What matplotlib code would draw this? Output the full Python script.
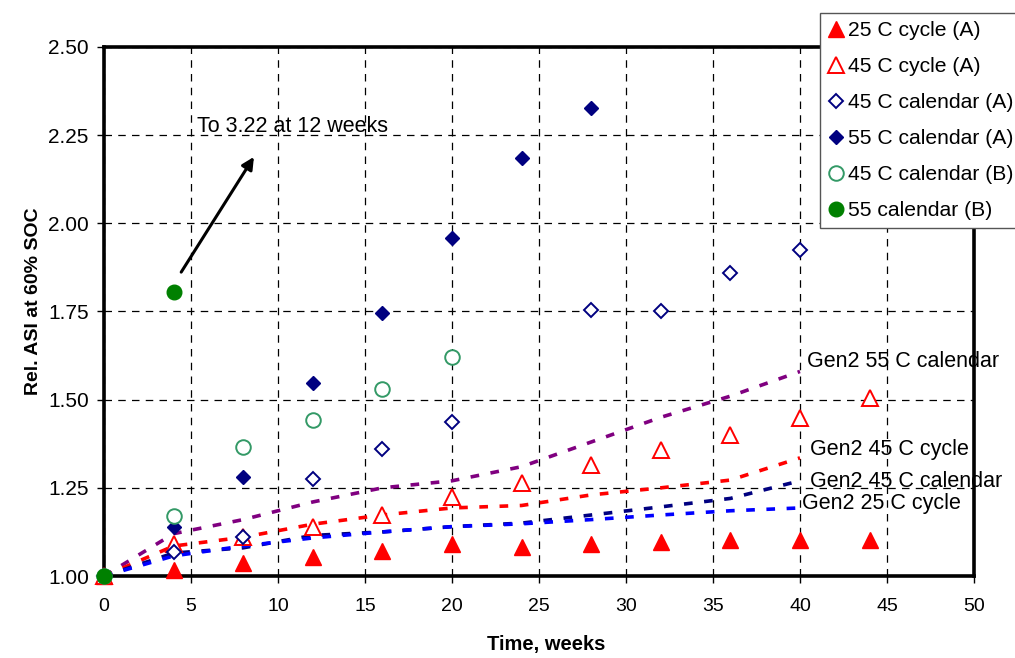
import matplotlib
matplotlib.use("Agg")
import matplotlib.pyplot as plt

plt.rcParams['font.family'] = ['Liberation Sans', 'DejaVu Sans']

# Measured series
x_25cyc = [0, 4, 8, 12, 16, 20, 24, 28, 32, 36, 40, 44]
y_25cyc = [1.00, 1.017, 1.037, 1.054, 1.071, 1.091, 1.082, 1.091, 1.097, 1.102, 1.102, 1.102]

x_45cyc = [0, 4, 8, 12, 16, 20, 24, 28, 32, 36, 40, 44]
y_45cyc = [1.00, 1.09, 1.11, 1.14, 1.173, 1.224, 1.264, 1.315, 1.358, 1.40, 1.449, 1.506]

x_45cal = [0, 4, 8, 12, 16, 20, 28, 32, 36, 40]
y_45cal = [1.00, 1.068, 1.11, 1.276, 1.36, 1.437, 1.755, 1.752, 1.86, 1.923]

x_55cal = [0, 4, 8, 12, 16, 20, 24, 28]
y_55cal = [1.00, 1.14, 1.28, 1.548, 1.747, 1.957, 2.185, 2.327]

x_45calB = [0, 4, 8, 12, 16, 20]
y_45calB = [1.00, 1.17, 1.366, 1.443, 1.531, 1.622]

x_55calB = [0, 4]
y_55calB = [1.00, 1.804]

# Gen2 reference curves
x_gen2 = [0, 4, 8, 12, 16, 20, 24, 28, 32, 36, 40]
y_gen2_55cal = [1.00, 1.12, 1.16, 1.21, 1.25, 1.27, 1.31, 1.38, 1.45, 1.51, 1.58]
y_gen2_45cyc = [1.00, 1.085, 1.11, 1.147, 1.173, 1.193, 1.20, 1.23, 1.25, 1.272, 1.335]
y_gen2_45cal = [1.00, 1.065, 1.08, 1.115, 1.125, 1.14, 1.15, 1.173, 1.196, 1.22, 1.27]
y_gen2_25cyc = [1.00, 1.057, 1.085, 1.108, 1.125, 1.14, 1.148, 1.16, 1.173, 1.185, 1.193]

x_ticks = [0, 5, 10, 15, 20, 25, 30, 35, 40, 45, 50]
y_ticks = [1.00, 1.25, 1.50, 1.75, 2.00, 2.25, 2.50]

fig = plt.figure(figsize=(10.15, 6.58), dpi=100)
ax = fig.add_axes([0.1025, 0.1246, 0.8571, 0.804])

ls_kw = dict(linewidth=2.6, dashes=(2.4, 3.2))
ax.plot(x_gen2, y_gen2_55cal, color='#800080', **ls_kw, zorder=2)
ax.plot(x_gen2, y_gen2_45cyc, color='#ff0000', **ls_kw, zorder=2)
ax.plot(x_gen2, y_gen2_45cal, color='#000080', **ls_kw, zorder=2)
ax.plot(x_gen2, y_gen2_25cyc, color='#0000ff', **ls_kw, zorder=2)

h1, = ax.plot(x_25cyc, y_25cyc, '^', color='#ff0000', ms=11, ls='none', label='25 C cycle (A)', zorder=3)
h2, = ax.plot(x_45cyc, y_45cyc, '^', mfc='white', mec='#ff0000', mew=1.4, ms=11, ls='none', label='45 C cycle (A)', zorder=3)
h3, = ax.plot(x_45cal, y_45cal, 'D', mfc='white', mec='#000080', mew=1.4, ms=7.5, ls='none', label='45 C calendar (A)', zorder=3)
h4, = ax.plot(x_55cal, y_55cal, 'D', color='#000080', ms=7.5, ls='none', label='55 C calendar (A)', zorder=3)
h5, = ax.plot(x_45calB, y_45calB, 'o', mfc='white', mec='#339966', mew=1.4, ms=10.5, ls='none', label='45 C calendar (B)', zorder=3)
h6, = ax.plot(x_55calB, y_55calB, 'o', color='#008000', ms=10.5, ls='none', label='55 calendar (B)', zorder=4)

for a in [h1, h2, h3, h4, h5, h6]:
    a.set_clip_on(False)

ax.set_xlim(0, 50)
ax.set_ylim(1.0, 2.5)
ax.set_xticks(x_ticks)
ax.set_yticks(y_ticks)
ax.set_xticklabels([str(v) for v in x_ticks])
ax.set_yticklabels([f"{v:.2f}" for v in y_ticks])
ax.tick_params(axis='x', labelsize=14, direction='out', length=5, width=1, pad=11)
ax.tick_params(axis='y', labelsize=15, direction='out', length=5, width=1, pad=6)
ax.grid(True, color='black', linestyle=(0, (6, 5)), linewidth=0.9)
for s in ax.spines.values():
    s.set_linewidth(2.6)
    s.set_color('black')

ax.set_xlabel('Time, weeks', fontsize=14.5, fontweight='bold')
ax.set_ylabel('Rel. ASI at 60% SOC', fontsize=14, fontweight='bold')
ax.xaxis.set_label_coords(0.508, -0.112)
ax.yaxis.set_label_coords(-0.0715, 0.52)

# annotation arrow
ax.annotate('', xy=(8.7, 2.195), xytext=(4.35, 1.855),
            arrowprops=dict(arrowstyle='-|>', color='black', lw=2.2, mutation_scale=18))
ax.text(5.35, 2.275, 'To 3.22 at 12 weeks', fontsize=15.5, va='center', ha='left')

txt_kw = dict(fontsize=15.5, va='center', ha='left', clip_on=False)
ax.text(40.4, 1.608, 'Gen2 55 C calendar', **txt_kw)
ax.text(40.6, 1.358, 'Gen2 45 C cycle', **txt_kw)
ax.text(40.6, 1.267, 'Gen2 45 C calendar', **txt_kw)
ax.text(40.1, 1.207, 'Gen2 25 C cycle', **txt_kw)

leg = fig.legend(handles=[h1, h2, h3, h4, h5, h6], loc='upper left',
                 bbox_to_anchor=(820/1015, 1 - 13/658), fontsize=15.2,
                 frameon=True, fancybox=False, framealpha=1, edgecolor='#555555',
                 handlelength=0.7, handletextpad=0.25, labelspacing=0.8,
                 borderpad=0.4, borderaxespad=0)
leg.get_frame().set_linewidth(1.0)

fig.savefig('out.png', dpi=100)
